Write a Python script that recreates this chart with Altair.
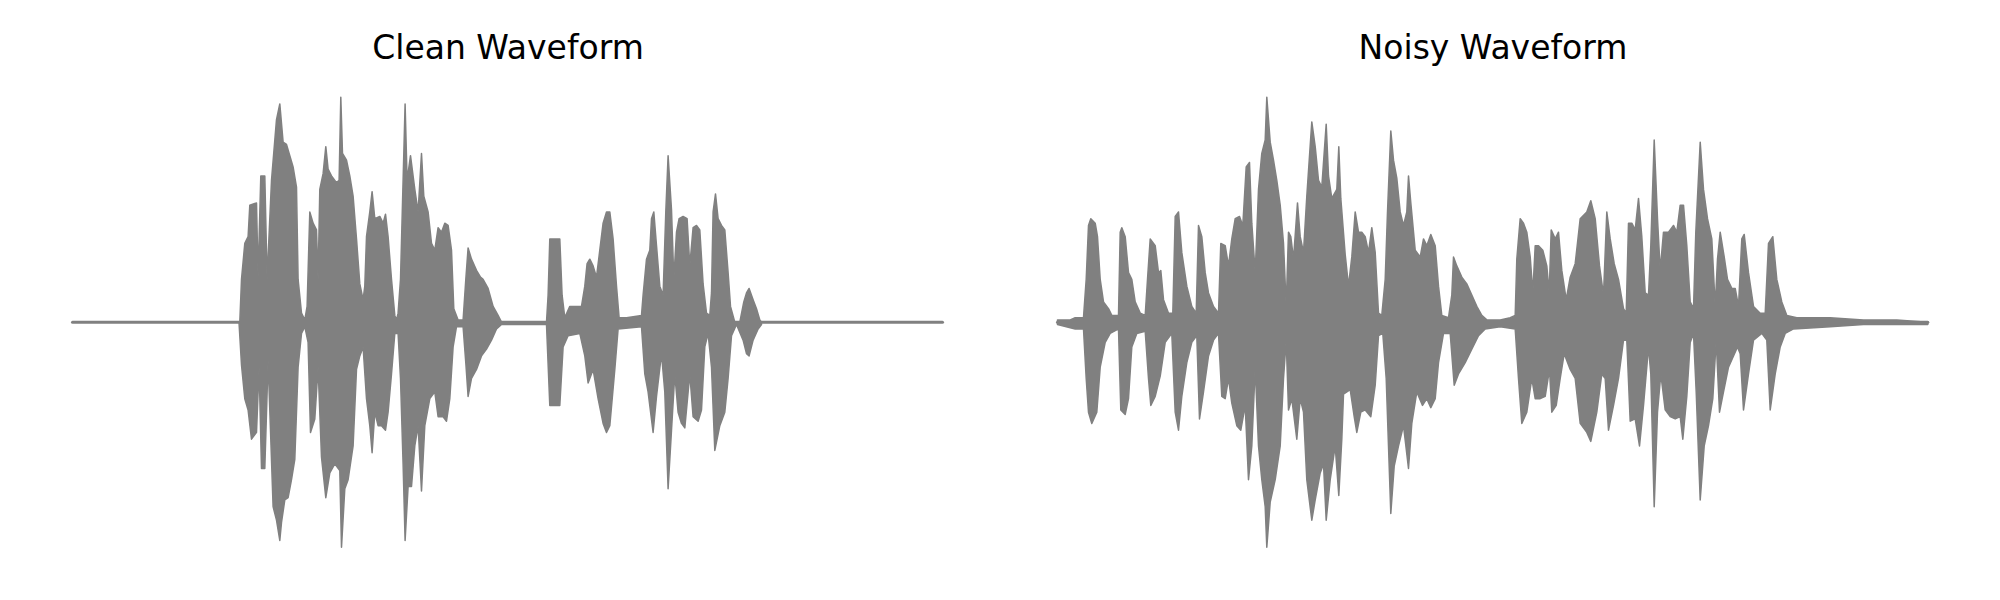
import altair as alt
import pandas as pd

# Waveform envelopes: (time, amplitude), time in frames
clean_upper = [
    (167.3, 0.0), (169.0, 0.19), (172.3, 0.35), (175.6, 0.38), (177.3, 0.52), (184.0, 0.53),
    (185.6, 0.20), (188.3, 0.65), (192.3, 0.65), (194.6, 0.19), (199.0, 0.63), (204.0, 0.90),
    (207.3, 0.97), (210.6, 0.80), (214.0, 0.79), (217.3, 0.74), (220.6, 0.69), (224.0, 0.60),
    (225.6, 0.19), (229.0, 0.04), (232.3, 0.01), (234.6, 0.07), (237.3, 0.49), (240.6, 0.44),
    (244.0, 0.41), (245.6, 0.19), (247.3, 0.59), (250.6, 0.66), (253.3, 0.78), (255.6, 0.68),
    (259.0, 0.65), (264.0, 0.62), (266.6, 0.63), (268.3, 1.00), (270.0, 0.75), (274.0, 0.72),
    (277.3, 0.65), (280.6, 0.56), (284.0, 0.37), (287.3, 0.17), (290.6, 0.10), (292.3, 0.16),
    (294.0, 0.38), (297.3, 0.49), (299.6, 0.58), (302.3, 0.46), (307.3, 0.47), (310.6, 0.44),
    (313.0, 0.48), (315.6, 0.38), (319.0, 0.19), (322.3, 0.03), (324.0, 0.01), (325.6, 0.04),
    (328.0, 0.19), (330.6, 0.63), (332.6, 0.97), (334.6, 0.63), (338.0, 0.74), (342.3, 0.59),
    (345.6, 0.49), (349.0, 0.75), (351.3, 0.56), (355.6, 0.49), (359.0, 0.35), (362.3, 0.32),
    (365.6, 0.42), (369.0, 0.40), (372.3, 0.44), (375.6, 0.43), (379.0, 0.32), (381.3, 0.06),
    (385.6, 0.01), (390.6, 0.01), (393.3, 0.19), (395.6, 0.33), (399.0, 0.28), (404.0, 0.23),
    (408.0, 0.20), (410.6, 0.19), (415.6, 0.15), (420.6, 0.07), (425.6, 0.03), (429.0, 0.0),
    (474.0, 0.0), (475.6, 0.12), (477.3, 0.37), (487.3, 0.37), (489.6, 0.12), (492.3, 0.02),
    (497.3, 0.07), (509.0, 0.07), (512.3, 0.16), (514.6, 0.26), (517.3, 0.28), (520.6, 0.25),
    (524.0, 0.20), (527.3, 0.32), (530.6, 0.44), (534.0, 0.49), (537.3, 0.49), (540.6, 0.37),
    (544.0, 0.16), (546.6, 0.02), (554.0, 0.02), (569.0, 0.03), (570.6, 0.12), (574.0, 0.28),
    (577.3, 0.32), (579.0, 0.46), (581.3, 0.49), (584.0, 0.34), (587.3, 0.16), (590.6, 0.12),
    (593.3, 0.49), (595.6, 0.74), (599.0, 0.50), (601.3, 0.19), (604.0, 0.40), (606.6, 0.46),
    (610.6, 0.47), (614.6, 0.46), (617.3, 0.25), (620.6, 0.42), (624.0, 0.43), (627.3, 0.41),
    (630.6, 0.17), (634.0, 0.04), (637.3, 0.03), (639.0, 0.13), (640.6, 0.49), (643.0, 0.57),
    (645.6, 0.46), (649.0, 0.43), (652.3, 0.41), (655.6, 0.22), (658.0, 0.07), (662.3, 0.0),
    (667.3, 0.0), (671.3, 0.09), (674.0, 0.13), (676.6, 0.15), (680.6, 0.10), (684.0, 0.06),
    (687.3, 0.01), (689.0, 0.0),
]

clean_lower = [
    (166.5, 0.0), (169.0, -0.19), (172.3, -0.34), (175.6, -0.39), (179.0, -0.52), (184.0, -0.49),
    (186.6, -0.20), (189.0, -0.65), (192.3, -0.65), (195.6, -0.17), (200.6, -0.82), (204.0, -0.88),
    (207.3, -0.97), (209.0, -0.89), (212.3, -0.79), (215.6, -0.78), (219.0, -0.70), (222.3, -0.61),
    (225.6, -0.20), (229.0, -0.05), (232.3, -0.02), (235.6, -0.09), (238.0, -0.49), (242.3, -0.43),
    (245.6, -0.20), (249.0, -0.60), (253.3, -0.78), (257.3, -0.67), (262.3, -0.63), (267.3, -0.66),
    (269.0, -1.00), (272.3, -0.74), (275.6, -0.70), (280.6, -0.55), (284.0, -0.21), (287.3, -0.15),
    (290.6, -0.11), (294.0, -0.34), (297.3, -0.46), (299.6, -0.58), (302.3, -0.40), (305.6, -0.46),
    (309.0, -0.46), (313.0, -0.48), (315.6, -0.40), (319.0, -0.23), (322.3, -0.05), (325.6, -0.05),
    (328.0, -0.25), (330.6, -0.63), (332.6, -0.97), (335.6, -0.73), (339.0, -0.73), (342.3, -0.55),
    (345.6, -0.46), (349.0, -0.75), (352.3, -0.46), (357.3, -0.34), (362.3, -0.31), (365.6, -0.42),
    (370.6, -0.42), (374.0, -0.44), (377.3, -0.34), (380.6, -0.11), (384.0, -0.02), (390.6, -0.02),
    (393.3, -0.18), (395.6, -0.33), (399.0, -0.25), (404.0, -0.21), (409.0, -0.15), (414.0, -0.12),
    (419.0, -0.08), (424.0, -0.03), (429.0, -0.01), (474.0, -0.01), (477.3, -0.37), (487.3, -0.37),
    (490.6, -0.11), (495.6, -0.06), (507.3, -0.05), (512.3, -0.15), (515.6, -0.27), (520.6, -0.21),
    (525.6, -0.34), (530.6, -0.45), (534.0, -0.49), (537.3, -0.46), (542.3, -0.21), (545.6, -0.03),
    (569.0, -0.02), (572.3, -0.23), (575.6, -0.31), (580.6, -0.49), (584.0, -0.33), (589.0, -0.14),
    (592.3, -0.31), (595.6, -0.74), (599.0, -0.48), (602.3, -0.23), (605.6, -0.40), (609.0, -0.45),
    (612.3, -0.47), (617.3, -0.23), (620.6, -0.42), (625.6, -0.44), (629.0, -0.39), (632.3, -0.11),
    (635.6, -0.05), (639.0, -0.20), (642.3, -0.57), (647.3, -0.46), (652.3, -0.40), (655.6, -0.25),
    (659.0, -0.06), (664.0, -0.01), (670.6, -0.08), (674.0, -0.14), (676.6, -0.15), (680.6, -0.08),
    (685.6, -0.03), (689.0, -0.01),
]

noisy_upper = [
    (0.0, 0.01), (12.7, 0.01), (17.7, 0.02), (26.0, 0.02), (28.7, 0.19), (31.0, 0.43), (33.3, 0.46),
    (37.7, 0.44), (40.0, 0.38), (42.7, 0.19), (46.0, 0.09), (51.0, 0.06), (54.3, 0.03), (61.0, 0.03),
    (62.7, 0.40), (64.3, 0.42), (67.7, 0.38), (71.0, 0.22), (74.3, 0.19), (77.7, 0.09), (82.7, 0.04),
    (87.7, 0.03), (90.0, 0.19), (92.7, 0.37), (97.7, 0.34), (101.0, 0.22), (103.3, 0.23), (106.0, 0.10),
    (111.0, 0.04), (115.3, 0.04), (117.7, 0.47), (121.0, 0.49), (124.3, 0.31), (129.3, 0.16),
    (134.3, 0.07), (138.7, 0.04), (141.0, 0.43), (144.3, 0.38), (147.7, 0.22), (151.0, 0.13),
    (156.0, 0.07), (161.0, 0.04), (163.3, 0.35), (167.7, 0.34), (171.0, 0.25), (174.3, 0.37),
    (177.7, 0.46), (182.0, 0.47), (185.3, 0.43), (188.7, 0.69), (192.0, 0.71), (194.3, 0.44),
    (197.7, 0.22), (201.0, 0.59), (204.3, 0.75), (207.7, 0.81), (209.3, 1.00), (212.7, 0.80),
    (216.0, 0.72), (219.3, 0.63), (222.7, 0.52), (226.0, 0.35), (228.7, 0.07), (231.0, 0.40),
    (233.3, 0.38), (236.0, 0.28), (240.0, 0.53), (242.7, 0.38), (246.0, 0.31), (249.3, 0.56),
    (254.3, 0.89), (257.7, 0.78), (261.0, 0.63), (264.3, 0.60), (268.7, 0.88), (271.0, 0.65),
    (274.3, 0.55), (279.3, 0.59), (281.3, 0.78), (283.3, 0.55), (287.7, 0.30), (291.0, 0.16),
    (294.3, 0.29), (297.7, 0.49), (301.0, 0.40), (304.3, 0.40), (307.7, 0.38), (311.0, 0.31),
    (314.3, 0.42), (317.7, 0.31), (321.0, 0.04), (324.3, 0.03), (327.7, 0.19), (330.0, 0.49),
    (333.3, 0.85), (336.0, 0.72), (339.3, 0.64), (342.7, 0.49), (346.0, 0.43), (349.3, 0.49),
    (351.0, 0.65), (353.3, 0.53), (357.7, 0.32), (362.7, 0.29), (366.0, 0.37), (369.3, 0.34),
    (373.3, 0.39), (377.7, 0.34), (381.0, 0.16), (384.3, 0.03), (391.0, 0.02), (394.3, 0.12),
    (396.0, 0.29), (399.3, 0.25), (404.3, 0.20), (409.3, 0.17), (414.3, 0.12), (419.3, 0.07),
    (424.3, 0.03), (429.3, 0.01), (442.7, 0.01), (452.7, 0.02), (457.7, 0.03), (459.3, 0.28),
    (462.7, 0.46), (466.0, 0.44), (469.3, 0.40), (472.7, 0.29), (475.3, 0.13), (477.7, 0.34),
    (481.0, 0.34), (485.3, 0.32), (489.3, 0.25), (491.7, 0.13), (493.7, 0.41), (497.7, 0.37),
    (501.0, 0.40), (504.3, 0.23), (508.7, 0.10), (512.7, 0.20), (517.7, 0.26), (522.7, 0.46),
    (529.3, 0.49), (533.3, 0.54), (537.7, 0.46), (542.0, 0.25), (546.0, 0.12), (549.3, 0.49),
    (552.7, 0.37), (556.7, 0.26), (561.0, 0.19), (566.0, 0.06), (568.7, 0.04), (571.0, 0.44),
    (574.3, 0.44), (577.7, 0.41), (581.0, 0.55), (584.3, 0.38), (587.7, 0.13), (591.0, 0.12),
    (593.3, 0.34), (596.7, 0.81), (600.0, 0.46), (602.7, 0.23), (606.0, 0.40), (611.0, 0.40),
    (616.0, 0.43), (619.3, 0.40), (622.7, 0.52), (626.0, 0.52), (629.3, 0.34), (632.7, 0.09),
    (636.0, 0.06), (638.3, 0.40), (642.7, 0.80), (646.0, 0.59), (650.0, 0.46), (654.3, 0.37),
    (657.7, 0.07), (660.0, 0.28), (662.7, 0.40), (666.7, 0.29), (670.0, 0.19), (674.3, 0.15),
    (677.7, 0.15), (681.0, 0.07), (684.3, 0.37), (686.7, 0.39), (691.0, 0.22), (696.0, 0.07),
    (702.7, 0.04), (707.7, 0.04), (711.0, 0.35), (715.3, 0.38), (719.3, 0.19), (724.3, 0.09),
    (729.3, 0.03), (739.3, 0.02), (772.7, 0.02), (806.0, 0.01), (839.3, 0.01), (870.3, 0.0),
]

noisy_lower = [
    (0.0, -0.01), (17.7, -0.03), (26.0, -0.03), (28.7, -0.25), (31.0, -0.40), (34.3, -0.45),
    (39.3, -0.40), (42.7, -0.20), (47.7, -0.09), (52.7, -0.05), (61.0, -0.03), (63.3, -0.39),
    (67.7, -0.41), (71.0, -0.34), (74.3, -0.11), (79.3, -0.05), (87.7, -0.04), (91.0, -0.25),
    (93.3, -0.37), (97.7, -0.33), (102.7, -0.24), (107.7, -0.09), (114.3, -0.05), (117.7, -0.40),
    (121.0, -0.48), (124.3, -0.33), (129.3, -0.18), (134.3, -0.09), (139.3, -0.06), (142.0, -0.43),
    (146.0, -0.31), (151.0, -0.15), (156.0, -0.08), (161.0, -0.05), (164.3, -0.33), (167.7, -0.34),
    (171.0, -0.25), (174.3, -0.36), (179.3, -0.46), (183.3, -0.48), (187.7, -0.37), (191.0, -0.70),
    (194.3, -0.55), (197.7, -0.20), (201.0, -0.55), (204.3, -0.70), (207.7, -0.82), (209.3, -1.00),
    (212.7, -0.80), (217.7, -0.70), (222.7, -0.55), (226.0, -0.25), (228.7, -0.08), (231.0, -0.39),
    (234.3, -0.34), (239.3, -0.52), (242.7, -0.34), (246.0, -0.40), (249.3, -0.70), (254.3, -0.88),
    (257.7, -0.79), (262.7, -0.67), (266.0, -0.63), (268.7, -0.88), (272.7, -0.70), (277.7, -0.55),
    (281.3, -0.77), (284.3, -0.52), (286.0, -0.32), (292.7, -0.30), (296.7, -0.42), (299.3, -0.49),
    (303.3, -0.40), (307.7, -0.39), (313.3, -0.42), (317.7, -0.28), (321.0, -0.06), (325.3, -0.05),
    (328.7, -0.25), (331.0, -0.55), (333.3, -0.85), (336.7, -0.64), (341.0, -0.55), (346.0, -0.46),
    (351.0, -0.65), (354.3, -0.45), (359.3, -0.31), (365.0, -0.37), (369.3, -0.34), (373.3, -0.38),
    (377.7, -0.34), (381.0, -0.18), (386.0, -0.05), (392.7, -0.05), (396.7, -0.28), (401.0, -0.23),
    (407.7, -0.18), (414.3, -0.12), (421.0, -0.06), (427.7, -0.03), (442.7, -0.02), (457.7, -0.03),
    (461.0, -0.25), (464.3, -0.45), (469.3, -0.40), (474.3, -0.25), (477.7, -0.34), (482.7, -0.34),
    (487.7, -0.33), (492.0, -0.21), (494.3, -0.40), (498.7, -0.37), (502.7, -0.25), (506.7, -0.14),
    (512.7, -0.21), (517.7, -0.25), (522.7, -0.45), (529.3, -0.49), (533.3, -0.53), (539.3, -0.40),
    (544.3, -0.23), (547.7, -0.25), (551.0, -0.48), (556.0, -0.37), (561.0, -0.25), (566.0, -0.08),
    (569.3, -0.08), (572.7, -0.44), (577.7, -0.43), (582.0, -0.55), (586.0, -0.37), (591.0, -0.11),
    (593.3, -0.23), (596.7, -0.82), (600.0, -0.40), (603.3, -0.23), (607.7, -0.39), (612.7, -0.42),
    (617.7, -0.43), (622.7, -0.42), (625.3, -0.52), (629.3, -0.33), (632.7, -0.09), (636.0, -0.05),
    (638.7, -0.31), (642.7, -0.79), (646.7, -0.55), (651.0, -0.46), (655.3, -0.34), (658.7, -0.08),
    (662.0, -0.40), (666.0, -0.31), (671.0, -0.20), (676.0, -0.15), (680.0, -0.11), (682.7, -0.14),
    (686.0, -0.39), (691.0, -0.23), (696.0, -0.08), (704.3, -0.05), (709.3, -0.08), (712.7, -0.39),
    (717.7, -0.23), (722.7, -0.11), (727.7, -0.05), (736.0, -0.03), (772.7, -0.02), (806.0, -0.01),
    (839.3, -0.01), (870.3, -0.01),
]

signal_start = [0.0, 0.0]
signal_end = [870.0, 870.3]
titles = ["Clean Waveform", "Noisy Waveform"]

GRAY = "#808080"
xs = alt.Scale(domain=[-39.5, 910.5], nice=False, zero=False)
ys = alt.Scale(domain=[-1.177, 1.023], nice=False, zero=False)


def panel(upper, lower, start, end, title):
    up = pd.DataFrame(upper, columns=["time", "amp"])
    up["zero"] = 0.0
    lo = pd.DataFrame(lower, columns=["time", "amp"])
    lo["zero"] = 0.0
    base = pd.DataFrame({"start": [start], "end": [end], "zero": [0.0]})
    area_kw = dict(color=GRAY, stroke=GRAY, strokeWidth=1.5, strokeJoin="round",
                   interpolate="linear", opacity=1)
    top = alt.Chart(up).mark_area(**area_kw).encode(
        x=alt.X("time:Q", scale=xs, axis=None),
        y=alt.Y("amp:Q", scale=ys, axis=None, stack=None),
        y2=alt.Y2("zero:Q"),
    )
    bot = alt.Chart(lo).mark_area(**area_kw).encode(
        x=alt.X("time:Q", scale=xs, axis=None),
        y=alt.Y("amp:Q", scale=ys, axis=None, stack=None),
        y2=alt.Y2("zero:Q"),
    )
    line = alt.Chart(base).mark_rule(color=GRAY, strokeWidth=3, strokeCap="round").encode(
        x=alt.X("start:Q", scale=xs, axis=None),
        x2=alt.X2("end:Q"),
        y=alt.Y("zero:Q", scale=ys, axis=None),
    )
    return alt.layer(line, top, bot).properties(
        width=950,
        height=495,
        title=alt.TitleParams(title, fontSize=33, font="DejaVu Sans", fontWeight="normal",
                              color="black", anchor="middle", baseline="alphabetic", offset=0),
    )


chart = alt.hconcat(
    panel(clean_upper, clean_lower, signal_start[0], signal_end[0], titles[0]),
    panel(noisy_upper, noisy_lower, signal_start[1], signal_end[1], titles[1]),
    spacing=35,
).properties(
    padding={"left": 25, "top": 25, "right": 0, "bottom": 0},
    background="white",
).configure_view(stroke=None)

chart.save("out.html", embed_options={"renderer": "svg", "actions": False})
